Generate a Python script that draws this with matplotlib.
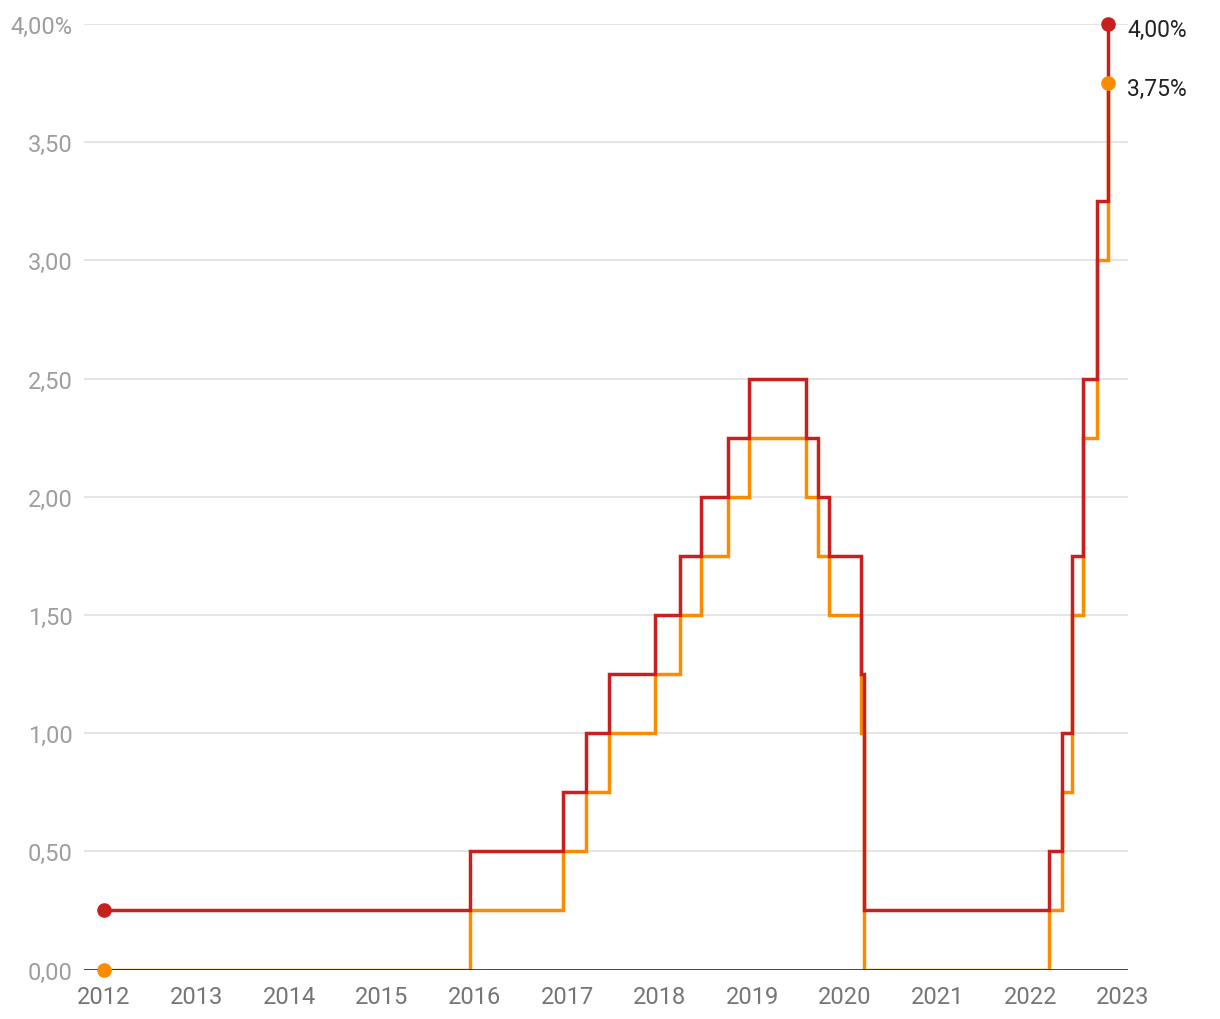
import matplotlib
matplotlib.use("Agg")
import matplotlib.pyplot as plt
import pandas as pd

plt.rcParams['font.family'] = ['Roboto', 'DejaVu Sans']

# Fed funds target range changes (date effective, upper bound, lower bound)
change_dates = ["2012-01-01", "2015-12-16", "2016-12-14", "2017-03-15", "2017-06-14",
                "2017-12-13", "2018-03-21", "2018-06-13", "2018-09-26", "2018-12-19",
                "2019-07-31", "2019-09-18", "2019-10-30", "2020-03-03", "2020-03-15",
                "2022-03-16", "2022-05-04", "2022-06-15", "2022-07-27", "2022-09-21",
                "2022-11-02"]
upper = [0.25, 0.50, 0.75, 1.00, 1.25, 1.50, 1.75, 2.00, 2.25, 2.50,
         2.25, 2.00, 1.75, 1.25, 0.25, 0.50, 1.00, 1.75, 2.50, 3.25, 4.00]
lower = [0.00, 0.25, 0.50, 0.75, 1.00, 1.25, 1.50, 1.75, 2.00, 2.25,
         2.00, 1.75, 1.50, 1.00, 0.00, 0.25, 0.75, 1.50, 2.25, 3.00, 3.75]
y_ticks = [0.0, 0.5, 1.0, 1.5, 2.0, 2.5, 3.0, 3.5, 4.0]
y_tick_labels = ["0,00", "0,50", "1,00", "1,50", "2,00", "2,50", "3,00", "3,50", "4,00%"]
x_years = list(range(2012, 2024))
end_labels = ["4,00%", "3,75%"]

RED = "#c8201f"
ORANGE = "#fb8c00"

dates = pd.to_datetime(change_dates)

fig = plt.figure(figsize=(12.2, 10.2), dpi=100)
ax = fig.add_axes([84 / 1220, 49.5 / 1020, (1128 - 84) / 1220, (969.5 - 24) / 1020])

ax.plot(dates, lower, drawstyle='steps-post', color=ORANGE, lw=2.5, zorder=2,
        solid_joinstyle='miter')
ax.axhline(0, color="#1a1a1a", lw=1.1, zorder=2.5)
ax.plot(dates, upper, drawstyle='steps-post', color=RED, lw=2.5, zorder=3,
        solid_joinstyle='miter')

for series, col in ((lower, ORANGE), (upper, RED)):
    ax.plot([dates[0], dates[-1]], [series[0], series[-1]], ls='none', marker='o',
            ms=9.5, color=col, zorder=5, clip_on=False)

for series, lab in ((upper, end_labels[0]), (lower, end_labels[1])):
    ax.annotate(lab, xy=(dates[-1], series[-1]), xytext=(14, -4), textcoords='offset points',
                ha='left', va='center', fontsize=16.5, color="#222222", annotation_clip=False)

ax.set_ylim(0, 4.0)
ax.set_xlim(pd.Timestamp("2011-10-14"), pd.Timestamp("2023-01-21"))
ax.set_yticks(y_ticks)
ax.set_yticklabels(y_tick_labels)
ax.set_xticks([pd.Timestamp(f"{y}-01-01") for y in x_years])
ax.set_xticklabels([str(y) for y in x_years])

ax.grid(axis='y', color="#e0e0e0", lw=1.2, zorder=0)
ax.set_axisbelow(True)
for s in ax.spines.values():
    s.set_visible(False)
ax.tick_params(axis='y', length=0, pad=8, labelsize=17, labelcolor="#9e9e9e")
ax.tick_params(axis='x', length=0, pad=11, labelsize=17, labelcolor="#757575")

fig.savefig("out.png", dpi=100, facecolor="white")
